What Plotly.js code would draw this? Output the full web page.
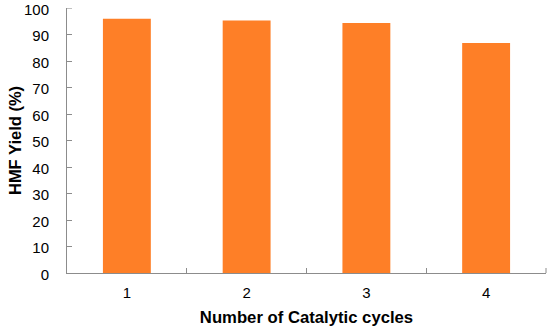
<!DOCTYPE html>
<html>
<head>
<meta charset="utf-8">
<script src="https://cdn.plot.ly/plotly-3.0.1.min.js"></script>
<style>html,body{margin:0;padding:0;background:#fff;}#chart{width:550px;height:333px;}</style>
</head>
<body>
<div id="chart"></div>
<script>
const cycles = ['1', '2', '3', '4'];
const hmfYield = [96.0, 95.3, 94.4, 86.8];
const yTicks = [0, 10, 20, 30, 40, 50, 60, 70, 80, 90, 100];

const axisGray = '#8c8c8c';
const tickFontFamily = 'Liberation Sans, Arial, sans-serif';

const trace = {
  type: 'bar',
  x: cycles,
  y: hmfYield,
  marker: {color: '#FE7F27'},
  hoverinfo: 'x+y'
};

const layout = {
  width: 550,
  height: 333,
  margin: {l: 67, r: 4, t: 8, b: 60},
  paper_bgcolor: '#ffffff',
  plot_bgcolor: '#ffffff',
  bargap: 0.6,
  showlegend: false,
  font: {family: tickFontFamily, color: '#000'},
  xaxis: {
    type: 'category',
    range: [-0.5, 3.5],
    tickson: 'boundaries',
    ticks: 'inside',
    ticklen: 5,
    tickcolor: axisGray,
    showline: true,
    linecolor: axisGray,
    linewidth: 1,
    showgrid: false,
    zeroline: false,
    tickfont: {size: 15, family: tickFontFamily, color: '#000'},
    ticklabelstandoff: 6,
    title: {text: 'Number of Catalytic cycles', font: {size: 16.7, family: 'Liberation Sans, Arial, sans-serif', color: '#000', weight: 'bold'}, standoff: 11}
  },
  yaxis: {
    range: [0, 100.02],
    tickvals: yTicks,
    ticktext: yTicks.map(String),
    ticks: 'inside',
    ticklen: 5,
    tickcolor: axisGray,
    showline: true,
    linecolor: axisGray,
    linewidth: 1,
    showgrid: false,
    zeroline: false,
    tickfont: {size: 15, family: tickFontFamily, color: '#000'},
    ticklabelstandoff: 14,
    title: {text: 'HMF Yield (%)', font: {size: 16.5, family: 'Liberation Sans, Arial, sans-serif', color: '#000', weight: 'bold'}, standoff: 6}
  },
  shapes: [
    {type: 'line', xref: 'x domain', yref: 'y', x0: 0, x1: 5 / 479, y0: 100, y1: 100, line: {color: axisGray, width: 1}},
    {type: 'line', xref: 'x domain', yref: 'y domain', x0: 1, x1: 1, y0: 0, y1: 5 / 265, line: {color: axisGray, width: 1}}
  ]
};

Plotly.newPlot('chart', [trace], layout, {staticPlot: true, displayModeBar: false}).then(function (gd) {
  gd.querySelectorAll('.ytick text').forEach(function (t) {
    t.style.display = '';
    const y = parseFloat(t.getAttribute('y')) || 0;
    t.setAttribute('y', (y + 1.5).toFixed(2));
  });
});
</script>
</body>
</html>
